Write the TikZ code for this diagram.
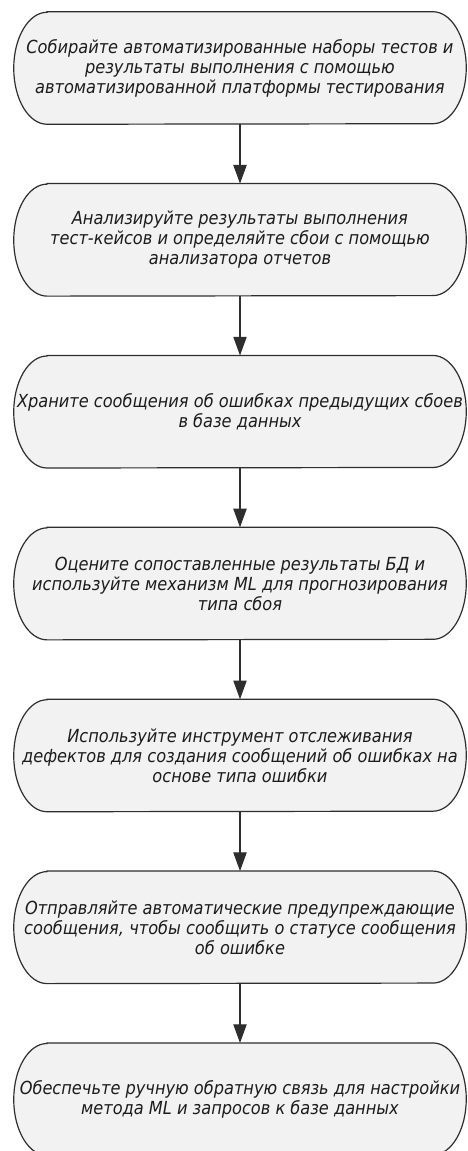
\documentclass[tikz,border=0pt]{standalone}
\usepackage{fontspec}
\setmainfont{DejaVu Sans Condensed}
\usetikzlibrary{positioning,backgrounds,arrows.meta}

\definecolor{boxfill}{HTML}{F2F2F2}
\definecolor{boxline}{HTML}{2E2E2E}
\definecolor{boxtext}{HTML}{1C1C1C}

\begin{document}
\begin{tikzpicture}[x=0.75pt, y=0.75pt,
	every node/.style={font=\fontsize{13.5}{15}\selectfont\itshape, text=boxtext},
	stage/.style={rectangle, minimum width=339pt, minimum height=84pt, inner xsep=0pt, align=center},
	outline/.style={draw=boxline, line width=0.9pt, fill=boxfill},
	flow/.style={draw=boxline, line width=0.8pt, -{Triangle[width=10pt,length=14pt]}}]
	\useasboundingbox (0,0) rectangle (467,-1151);
	% seven stages, one under the other
	\node[stage] (collect) at (240,-68) {Собирайте автоматизированные наборы тестов и\\результаты выполнения с помощью\\автоматизированной платформы тестирования};
	\node[stage, below=44.5pt of collect] (analyse) {Анализируйте результаты выполнения\\тест-кейсов и определяйте сбои с помощью\\анализатора отчетов};
	\node[stage, below=44.5pt of analyse] (store) {Храните сообщения об ошибках предыдущих сбоев\\в базе данных};
	\node[stage, below=44.5pt of store] (predict) {Оцените сопоставленные результаты БД и\\используйте механизм ML для прогнозирования\\типа сбоя};
	\node[stage, below=44.5pt of predict] (track) {Используйте инструмент отслеживания\\дефектов для создания сообщений об ошибках на\\основе типа ошибки};
	\node[stage, below=44.5pt of track] (notify) {Отправляйте автоматические предупреждающие\\сообщения, чтобы сообщить о статусе сообщения\\об ошибке};
	\node[stage, below=44.5pt of notify] (feedback) {Обеспечьте ручную обратную связь для настройки\\метода ML и запросов к базе данных};
	% rounded outlines behind the texts
	\begin{scope}[on background layer]
		\foreach \n in {collect, analyse, store, predict, track, notify, feedback}
			\draw[outline] ([xshift=25pt]\n.north west) -- ([xshift=-25pt]\n.north east)
				arc[start angle=90, end angle=-90, x radius=25pt, y radius=42pt]
				-- ([xshift=25pt]\n.south west)
				arc[start angle=270, end angle=90, x radius=25pt, y radius=42pt] -- cycle;
	\end{scope}
	% arrows between stages
	\foreach \a/\b in {collect/analyse, analyse/store, store/predict, predict/track, track/notify, notify/feedback}
		\draw[flow] (\a) -- (\b);
\end{tikzpicture}
\end{document}
